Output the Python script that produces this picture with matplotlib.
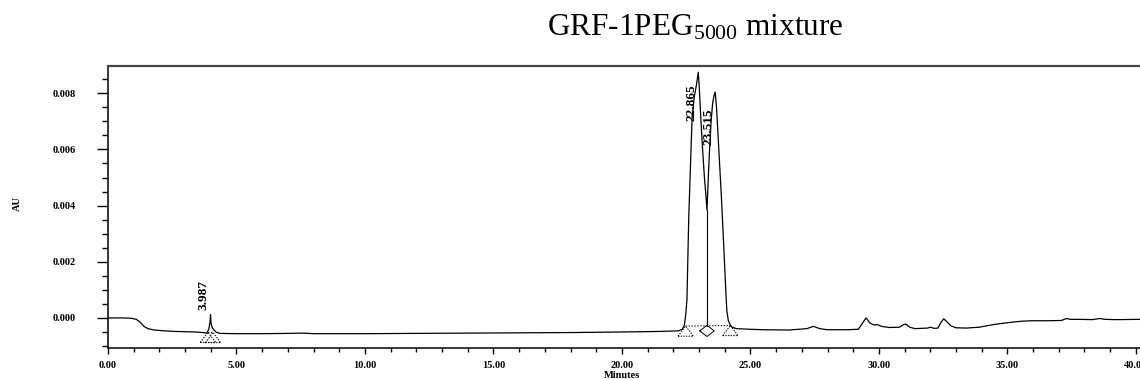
import matplotlib
matplotlib.use("Agg")
import matplotlib.pyplot as plt
from matplotlib.ticker import MultipleLocator, FormatStrFormatter

# ---- data ----
time_min = [0.0, 0.5, 0.9, 1.1, 1.25, 1.4, 1.55, 1.8, 2.2, 2.6, 3.0, 3.4, 3.7, 3.85,
            3.92, 3.97, 3.99, 4.01, 4.06, 4.12, 4.2, 4.35, 5.0, 6.0, 7.0, 7.6, 8.0,
            9.0, 10.0, 12.0, 14.0, 16.0, 18.0, 20.0, 21.5, 22.2, 22.35, 22.43, 22.48,
            22.53, 22.6, 22.67, 22.73, 22.82, 22.9, 22.97, 23.01, 23.07, 23.14, 23.21,
            23.26, 23.31, 23.36, 23.41, 23.47, 23.53, 23.58, 23.63, 23.68, 23.77, 23.87,
            23.97, 24.04, 24.08, 24.14, 24.22, 24.27, 24.45, 24.9, 25.5, 26.5, 27.2,
            27.45, 27.7, 28.0, 28.8, 29.2, 29.35, 29.5, 29.65, 29.8, 29.95, 30.1, 30.4,
            30.8, 30.95, 31.05, 31.2, 31.4, 31.9, 32.0, 32.15, 32.3, 32.4, 32.52, 32.65,
            32.8, 33.0, 33.4, 33.9, 34.5, 35.0, 35.5, 35.9, 36.5, 37.1, 37.3, 37.45,
            37.8, 38.3, 38.6, 38.8, 39.2, 40.2]
absorbance = [0.0, 0.0, -0.00001, -0.00005, -0.00015, -0.0003, -0.00038, -0.00043,
              -0.00046, -0.00048, -0.00049, -0.0005, -0.00052, -0.00054, -0.0004,
              -0.00015, 0.00012, -0.0002, -0.00035, -0.00042, -0.0005, -0.00055,
              -0.00056, -0.00056, -0.00055, -0.00054, -0.00056, -0.00056, -0.00056,
              -0.00055, -0.00054, -0.00053, -0.00052, -0.0005, -0.00048, -0.00046,
              -0.0004, -0.00025, 0.0001, 0.00064, 0.0036, 0.0055, 0.00715, 0.0079,
              0.0083, 0.00875, 0.0082, 0.0071, 0.00598, 0.0050, 0.00445, 0.00384,
              0.0050, 0.0060, 0.0070, 0.00765, 0.0079, 0.00804, 0.0075, 0.0060, 0.0043,
              0.0024, 0.0010, 0.00028, -0.0001, -0.00025, -0.00032, -0.00038, -0.0004,
              -0.00042, -0.00043, -0.00038, -0.0003, -0.00038, -0.00042, -0.00042,
              -0.0004, -0.0002, 0.0, -0.00018, -0.00025, -0.00024, -0.0003, -0.00034,
              -0.00033, -0.00024, -0.00022, -0.00033, -0.00038, -0.00036, -0.00033,
              -0.00037, -0.00036, -0.00018, -0.00003, -0.00014, -0.00028, -0.00035,
              -0.00036, -0.00033, -0.00023, -0.00017, -0.00012, -0.0001, -0.0001,
              -0.00009, -0.00002, -0.00005, -0.00005, -0.00006, -0.00002, -0.00005,
              -0.00006, -0.00005]

peak_rt = [3.99, 22.97, 23.63]          # drawn apex positions
peak_height = [0.00012, 0.00875, 0.00804]
peak_labels = ["3.987", "22.865", "23.515"]
valley_time = 23.31
valley_value = 0.00384

# integration events: (time, baseline value, kind)
event_time = [3.89, 4.09, 22.48, 23.31, 24.22]
event_level = [-0.00051, -0.00052, -0.00029, -0.00028, -0.00027]
event_kind = ["tri", "tri", "tri", "dia", "tri"]
integ_lines = [(0, 1), (2, 4)]

x_ticks = [0, 5, 10, 15, 20, 25, 30, 35, 40]
y_ticks = [0.000, 0.002, 0.004, 0.006, 0.008]

title = "GRF-1PEG$_{5000}$ mixture"
x_label = "Minutes"
y_label = "AU"

# ---- styling ----
plt.rcParams['font.family'] = ['Liberation Serif', 'DejaVu Serif']
plt.rcParams['mathtext.fontset'] = 'custom'
plt.rcParams['mathtext.rm'] = 'Liberation Serif'
plt.rcParams['mathtext.it'] = 'Liberation Serif:italic'
plt.rcParams['mathtext.bf'] = 'Liberation Serif:bold'

fig = plt.figure(figsize=(11.4, 3.8), dpi=100)
ax = fig.add_axes([108 / 1140, 32 / 380, 1032 / 1140, 282 / 380])

ax.plot(time_min, absorbance, color='black', lw=0.9)

# integration baselines / markers
for a, b in integ_lines:
    ax.plot([event_time[a], event_time[b]], [event_level[a], event_level[b]],
            color='black', lw=0.7, ls=(0, (1.5, 1.5)))
tw, th = 0.30, 0.00036
dw, dh = 0.28, 0.0002
for t, lv, k in zip(event_time, event_level, event_kind):
    if k == "tri":
        ax.plot([t - tw, t, t + tw, t - tw], [lv - th, lv, lv - th, lv - th],
                color='black', lw=0.7, ls=(0, (1.5, 1.2)))
    else:
        c = lv - 0.00018
        ax.plot([t - dw, t, t + dw, t, t - dw], [c, c + dh, c, c - dh, c],
                color='black', lw=0.7)
ax.plot([valley_time, valley_time], [event_level[3], valley_value], color='black', lw=0.8)

# peak labels
offsets = [(-5, 14), (-5, -22), (-5, -25)]
for rt, h, lab, off in zip(peak_rt, peak_height, peak_labels, offsets):
    ax.annotate(lab, xy=(rt, h), xytext=off, textcoords='offset points',
                rotation=90, ha='center', va='center', fontsize=9.5, fontweight='bold')

ax.set_xlim(0, 40.16)
ax.set_ylim(-0.00107, 0.00897)
ax.set_xticks(x_ticks)
ax.set_yticks(y_ticks)
ax.xaxis.set_minor_locator(MultipleLocator(1))
ax.yaxis.set_minor_locator(MultipleLocator(0.0005))
ax.xaxis.set_major_formatter(FormatStrFormatter('%.2f'))
ax.yaxis.set_major_formatter(FormatStrFormatter('%.3f'))
ax.tick_params(axis='y', which='major', direction='out', length=8, width=1, pad=15, labelsize=7.5)
ax.tick_params(axis='y', which='minor', direction='out', length=4, width=1)
ax.tick_params(axis='x', which='major', direction='out', length=4, width=1, pad=5, labelsize=7.5)
ax.tick_params(axis='x', which='minor', direction='out', length=3, width=1)
for lab in ax.get_xticklabels() + ax.get_yticklabels():
    lab.set_fontweight('bold')

ax.spines['right'].set_visible(False)
ax.spines['top'].set_linewidth(1.6)
ax.spines['top'].set_color('#444444')
ax.spines['left'].set_linewidth(1.1)
ax.spines['bottom'].set_linewidth(1.1)

fig.text(695 / 1140, 1 - 35 / 380, title, ha='center', va='baseline', fontsize=22.5)
fig.text(17 / 1140, 1 - 204 / 380, y_label, rotation=90, ha='center', va='center',
         fontsize=7.5, fontweight='bold')
fig.text(622 / 1140, 1 - 375 / 380, x_label, ha='center', va='center',
         fontsize=7.5, fontweight='bold')

fig.savefig('out.png', dpi=100)
